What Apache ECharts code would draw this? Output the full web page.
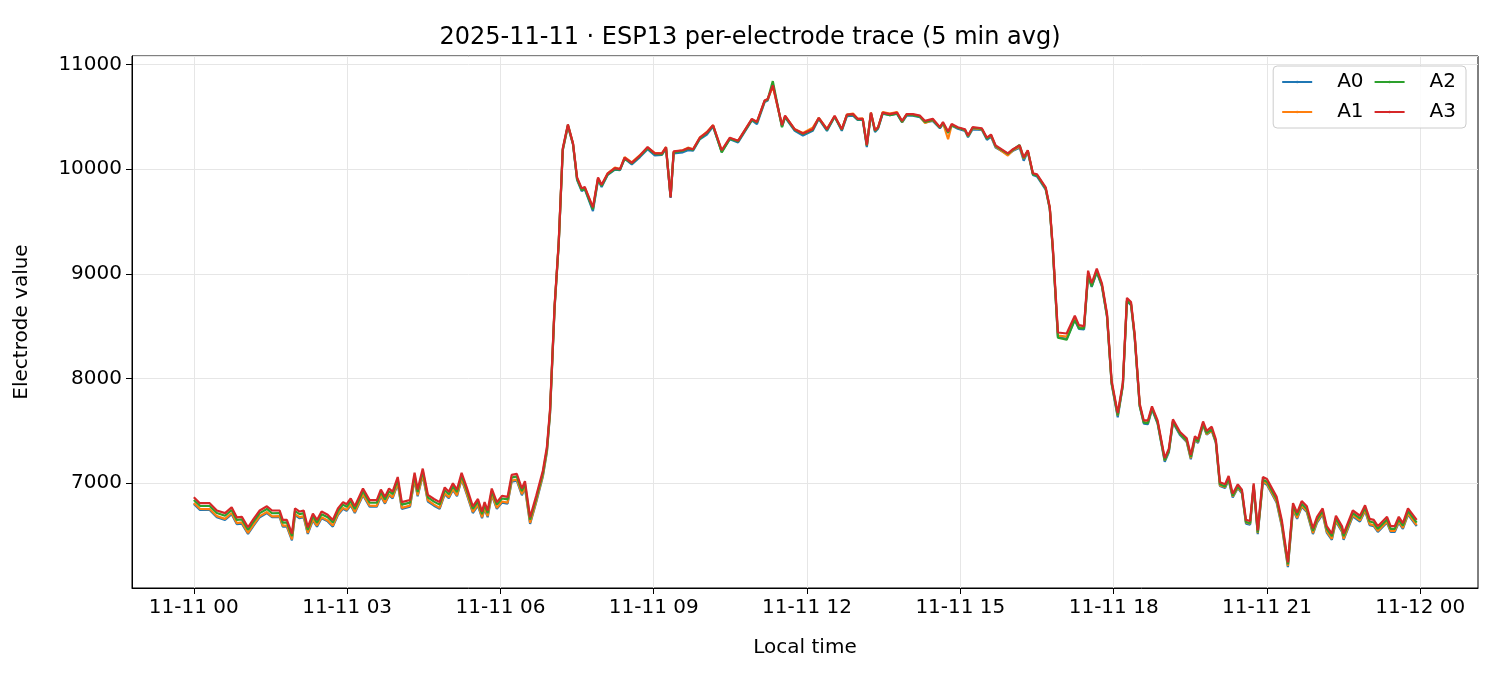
<!DOCTYPE html>
<html>
<head>
<meta charset="utf-8">
<script src="https://cdn.jsdelivr.net/npm/echarts@6/dist/echarts.min.js"></script>
<style>
  html, body { margin: 0; padding: 0; background: #fff; }
  #main { width: 1500px; height: 675px; }
</style>
</head>
<body>
<div id="main"></div>
<script>
// hours since 2025-11-11 00:00 (5 min averages)
var hours = [
  0.00,0.12,0.31,0.45,0.61,0.74,0.84,0.94,1.06,1.17,
  1.29,1.43,1.53,1.68,1.74,1.82,1.92,1.98,2.07,2.15,
  2.23,2.33,2.41,2.50,2.62,2.72,2.82,2.92,2.99,3.07,
  3.15,3.31,3.44,3.58,3.66,3.74,3.82,3.89,3.99,4.07,
  4.23,4.32,4.38,4.48,4.58,4.70,4.81,4.91,4.99,5.07,
  5.15,5.24,5.34,5.46,5.56,5.64,5.69,5.75,5.83,5.93,
  6.03,6.14,6.22,6.32,6.42,6.48,6.58,6.70,6.83,6.91,
  6.97,7.06,7.14,7.22,7.32,7.42,7.50,7.59,7.65,7.81,
  7.91,7.98,8.10,8.24,8.34,8.43,8.57,8.73,8.88,9.02,
  9.16,9.24,9.33,9.39,9.57,9.67,9.77,9.90,10.04,10.16,
  10.33,10.49,10.65,10.92,11.02,11.17,11.23,11.33,11.51,11.57,
  11.76,11.92,12.11,12.23,12.39,12.54,12.68,12.78,12.90,12.99,
  13.09,13.17,13.25,13.33,13.39,13.48,13.62,13.76,13.86,13.95,
  14.07,14.21,14.31,14.46,14.60,14.66,14.76,14.83,14.95,15.09,
  15.15,15.24,15.42,15.52,15.60,15.69,15.93,16.03,16.16,16.24,
  16.32,16.42,16.50,16.67,16.75,16.81,16.91,17.08,17.24,17.32,
  17.42,17.50,17.57,17.67,17.77,17.87,17.96,18.08,18.18,18.26,
  18.34,18.41,18.51,18.59,18.67,18.75,18.86,19.00,19.08,19.16,
  19.30,19.43,19.51,19.59,19.65,19.75,19.82,19.92,20.00,20.08,
  20.18,20.25,20.33,20.43,20.51,20.59,20.67,20.74,20.82,20.92,
  21.00,21.19,21.29,21.41,21.51,21.59,21.68,21.78,21.90,21.98,
  22.09,22.17,22.27,22.35,22.47,22.50,22.68,22.82,22.92,23.01,
  23.09,23.17,23.35,23.42,23.50,23.58,23.66,23.76,23.93
];

var a0 = [
  6802,6745,6745,6676,6650,6705,6610,6615,6516,6596,
  6676,6715,6676,6676,6586,6585,6455,6696,6666,6676,
  6516,6646,6586,6666,6636,6586,6696,6756,6736,6790,
  6716,6886,6776,6776,6876,6806,6886,6856,6996,6756,
  6776,7036,6876,7076,6826,6786,6756,6896,6856,6936,
  6876,7036,6896,6716,6786,6666,6756,6676,6886,6756,
  6816,6806,7016,7026,6886,6956,6612,6820,7065,7300,
  7660,8670,9280,10180,10410,10235,9895,9790,9810,9600,
  9895,9830,9945,9995,9990,10100,10045,10115,10190,10130,
  10135,10195,9725,10150,10160,10180,10175,10285,10330,10405,
  10165,10285,10255,10465,10430,10640,10655,10810,10405,10495,
  10365,10320,10365,10480,10365,10500,10365,10505,10510,10470,
  10470,10210,10530,10355,10385,10530,10515,10530,10445,10510,
  10510,10495,10445,10460,10390,10430,10345,10415,10385,10365,
  10305,10380,10375,10280,10310,10205,10140,10175,10205,10080,
  10165,9945,9930,9805,9620,9225,8395,8380,8560,8475,
  8470,8985,8875,9015,8880,8590,7950,7630,7930,8740,
  8700,8400,7735,7570,7565,7705,7570,7205,7295,7580,
  7460,7395,7230,7415,7385,7555,7465,7500,7385,6975,
  6955,7030,6865,6955,6905,6615,6605,6965,6515,7010,
  6985,6815,6590,6200,6750,6660,6775,6725,6515,6625,
  6705,6530,6460,6635,6535,6460,6685,6635,6735,6600,
  6590,6535,6625,6535,6535,6625,6565,6700,6590
];

var a1 = [
  6812,6756,6754,6686,6660,6716,6620,6626,6526,6606,
  6686,6725,6684,6687,6596,6595,6465,6705,6676,6686,
  6526,6655,6596,6675,6645,6596,6705,6765,6746,6800,
  6725,6895,6786,6785,6886,6815,6895,6866,7005,6765,
  6786,7045,6885,7085,6836,6796,6765,6905,6866,6945,
  6885,7045,6905,6726,6796,6676,6765,6686,6895,6765,
  6826,6815,7025,7036,6896,6966,6622,6830,7075,7310,
  7670,8680,9285,10185,10415,10245,9910,9805,9825,9630,
  9910,9845,9960,10015,10000,10115,10065,10135,10205,10155,
  10150,10210,9740,10165,10180,10205,10190,10300,10355,10420,
  10175,10295,10270,10475,10450,10650,10665,10790,10415,10505,
  10380,10345,10395,10490,10385,10505,10380,10520,10530,10480,
  10485,10230,10540,10370,10395,10545,10530,10545,10450,10525,
  10520,10505,10440,10470,10400,10440,10285,10420,10395,10375,
  10315,10390,10380,10295,10320,10215,10130,10180,10215,10100,
  10170,9955,9945,9815,9630,9240,8410,8400,8575,8490,
  8485,9000,8895,9030,8895,8605,7960,7650,7940,8750,
  8715,8415,7745,7585,7580,7720,7585,7220,7310,7590,
  7470,7400,7240,7420,7395,7565,7470,7505,7395,6980,
  6965,7040,6875,6960,6915,6625,6615,6970,6525,7020,
  6995,6825,6600,6210,6760,6670,6785,6735,6525,6635,
  6715,6540,6470,6645,6545,6470,6695,6645,6745,6610,
  6600,6545,6635,6545,6545,6635,6575,6710,6600
];

var a2 = [
  6840,6785,6783,6716,6690,6745,6650,6655,6556,6635,
  6715,6755,6714,6716,6625,6626,6495,6734,6706,6715,
  6555,6686,6624,6705,6676,6625,6734,6796,6774,6830,
  6755,6924,6816,6814,6916,6845,6924,6896,7034,6796,
  6815,7074,6916,7114,6866,6825,6796,6934,6896,6975,
  6916,7074,6936,6755,6826,6705,6796,6715,6924,6796,
  6855,6846,7054,7066,6925,6996,6652,6856,7096,7326,
  7680,8690,9290,10190,10422,10240,9905,9800,9815,9615,
  9905,9840,9950,10000,9995,10100,10055,10125,10200,10145,
  10140,10205,9735,10160,10175,10195,10185,10290,10345,10415,
  10160,10290,10265,10470,10445,10650,10665,10840,10400,10500,
  10375,10335,10375,10485,10375,10500,10375,10515,10520,10475,
  10475,10225,10535,10365,10395,10535,10515,10530,10450,10520,
  10515,10500,10450,10470,10395,10440,10350,10420,10395,10375,
  10315,10395,10385,10290,10325,10220,10145,10185,10230,10105,
  10175,9950,9940,9815,9625,9230,8390,8370,8560,8480,
  8480,8990,8880,9020,8890,8600,7960,7650,7940,8740,
  8710,8410,7740,7580,7575,7715,7580,7220,7310,7590,
  7470,7410,7250,7430,7400,7570,7480,7515,7400,6990,
  6970,7045,6880,6970,6920,6630,6620,6980,6530,7035,
  7015,6845,6625,6225,6785,6695,6805,6755,6545,6655,
  6735,6565,6495,6665,6565,6495,6715,6665,6765,6635,
  6625,6565,6655,6565,6565,6655,6595,6735,6625
];

var a3 = [
  6866,6810,6810,6740,6715,6770,6675,6680,6580,6660,
  6740,6780,6740,6740,6650,6650,6520,6760,6730,6740,
  6580,6710,6650,6730,6700,6650,6760,6820,6800,6855,
  6780,6950,6840,6840,6940,6870,6950,6920,7060,6820,
  6840,7100,6940,7140,6890,6850,6820,6960,6920,7000,
  6940,7100,6960,6780,6850,6730,6820,6740,6950,6820,
  6880,6870,7080,7090,6950,7020,6675,6880,7120,7350,
  7700,8700,9300,10200,10427,10246,9921,9816,9830,9635,
  9920,9850,9960,10010,10000,10110,10060,10130,10210,10150,
  10150,10210,9730,10170,10180,10200,10190,10300,10350,10420,
  10180,10300,10270,10480,10450,10656,10670,10800,10420,10510,
  10380,10340,10380,10490,10380,10510,10380,10520,10525,10480,
  10480,10230,10540,10370,10400,10540,10525,10540,10460,10525,
  10525,10510,10460,10480,10400,10450,10360,10430,10400,10380,
  10320,10400,10390,10300,10330,10227,10150,10190,10227,10112,
  10180,9960,9950,9826,9635,9253,8440,8430,8600,8510,
  8500,9030,8910,9050,8910,8620,7980,7670,7960,8770,
  8730,8430,7760,7600,7600,7735,7600,7240,7330,7610,
  7490,7430,7270,7450,7420,7590,7500,7540,7420,7010,
  6990,7070,6900,6990,6940,6650,6640,7000,6550,7060,
  7040,6870,6650,6245,6810,6720,6830,6780,6570,6680,
  6760,6590,6520,6690,6590,6520,6740,6690,6790,6660,
  6650,6590,6680,6590,6590,6680,6620,6760,6650
];

var seriesNames = ['A0', 'A1', 'A2', 'A3'];
var seriesColors = ['#1f77b4', '#ff7f0e', '#2ca02c', '#d62728'];
var xTicks = [0, 3, 6, 9, 12, 15, 18, 21, 24];

var chartDom = document.getElementById('main');
var myChart = echarts.init(chartDom);

function pairs(vals) {
  return hours.map(function (h, i) { return [h, vals[i]]; });
}
function tickLabel(h) {
  var day = h >= 24 ? '11-12' : '11-11';
  var hh = h % 24;
  return day + ' ' + (hh < 10 ? '0' + hh : '' + hh);
}

var data = [a0, a1, a2, a3];
var series = seriesNames.map(function (name, i) {
  var s = {
    name: name,
    type: 'line',
    data: pairs(data[i]),
    showSymbol: false,
    symbol: 'none',
    lineStyle: { width: 2.2, color: seriesColors[i] },
    itemStyle: { color: seriesColors[i] },
    animation: false,
    z: 3 + i
  };
  if (i === 0) {
    // vertical grid lines at the time ticks
    s.markLine = {
      silent: true,
      symbol: 'none',
      label: { show: false },
      lineStyle: { color: '#e6e6e6', width: 1, type: 'solid' },
      data: xTicks.map(function (t) { return { xAxis: t }; }),
      z: 1
    };
  }
  return s;
});

var font = 'DejaVu Sans';
var option = {
  backgroundColor: '#fff',
  title: {
    text: '2025-11-11 · ESP13 per-electrode trace (5 min avg)',
    left: 'center',
    top: 21,
    textStyle: { fontFamily: font, fontSize: 24, fontWeight: 'normal', color: '#000' }
  },
  legend: {
    data: ['A0', 'A2', 'A1', 'A3'],
    right: 34,
    top: 66,
    width: 200,
    orient: 'horizontal',
    itemWidth: 30,
    itemHeight: 3,
    itemGap: 10,
    padding: [6, 10, 6, 8],
    borderColor: '#cccccc',
    borderWidth: 1,
    borderRadius: 4,
    backgroundColor: 'rgba(255,255,255,0.85)',
    textStyle: { fontFamily: font, fontSize: 20, color: '#000', padding: [0, 12, 0, 20] }
  },
  grid: {
    left: 132, right: 22, top: 56, bottom: 87,
    show: true, borderColor: '#000', borderWidth: 1
  },
  xAxis: {
    type: 'value',
    min: -1.21,
    max: 25.13,
    name: 'Local time',
    nameLocation: 'middle',
    nameGap: 50,
    nameTextStyle: { fontFamily: font, fontSize: 20, color: '#000' },
    axisLine: { show: true, onZero: false, lineStyle: { color: '#000' } },
    axisTick: { show: true, customValues: xTicks, length: 6, lineStyle: { color: '#000' } },
    axisLabel: {
      customValues: xTicks,
      formatter: tickLabel,
      fontFamily: font, fontSize: 20, color: '#000', margin: 10
    },
    splitLine: { show: false }
  },
  yAxis: {
    type: 'value',
    min: 6000,
    max: 11080,
    interval: 1000,
    name: 'Electrode value',
    nameLocation: 'middle',
    nameGap: 100,
    nameTextStyle: { fontFamily: font, fontSize: 20, color: '#000' },
    axisLine: { show: true, onZero: false, lineStyle: { color: '#000' } },
    axisTick: { show: true, length: 6, lineStyle: { color: '#000' } },
    axisLabel: {
      showMinLabel: false,
      showMaxLabel: false,
      formatter: function (v) { return String(v); },
      fontFamily: font, fontSize: 20, color: '#000', margin: 10
    },
    splitLine: { show: true, lineStyle: { color: '#e6e6e6', width: 1 } }
  },
  series: series
};

option && myChart.setOption(option);
</script>
</body>
</html>
